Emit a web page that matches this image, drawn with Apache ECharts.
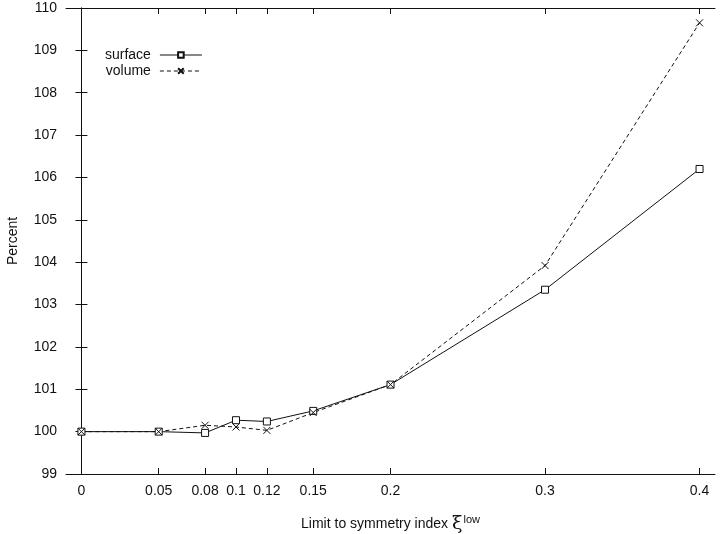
<!DOCTYPE html>
<html>
<head>
<meta charset="utf-8">
<script src="https://cdn.jsdelivr.net/npm/echarts@6/dist/echarts.min.js"></script>
<style>
  html, body { margin: 0; padding: 0; background: #fff; }
  #chart { width: 720px; height: 534px; }
</style>
</head>
<body>
<div id="chart"></div>
<script>
const xTicks = [0, 0.05, 0.08, 0.1, 0.12, 0.15, 0.2, 0.3, 0.4]
const surface = [100.0, 100.0, 99.97, 100.27, 100.24, 100.49, 101.11, 103.35, 106.2]
const volume = [100.0, 100.0, 100.15, 100.11, 100.03, 100.45, 101.11, 103.92, 109.65]

const font = "'Liberation Sans', Arial, sans-serif"
const black = "#111"
const squarePath = "path://M0,0L10,0L10,10L0,10Z"
const crossPath = "path://M0,0L10,10M10,0L0,10"

const chart = echarts.init(document.getElementById("chart"))

const xCommon = {
  type: "value",
  min: -0.01,
  max: 0.41,
  axisLine: { show: true, lineStyle: { color: black, width: 1 } },
  axisTick: { show: true, inside: true, length: 6, customValues: xTicks, lineStyle: { color: black } },
  splitLine: { show: false }
}
const yCommon = {
  type: "value",
  min: 99,
  max: 110,
  interval: 1,
  axisLine: { show: true, lineStyle: { color: black, width: 1 } },
  axisTick: { show: true, inside: true, length: 6, lineStyle: { color: black } },
  splitLine: { show: false }
}

chart.setOption({
  animation: false,
  backgroundColor: "#fff",
  textStyle: { fontFamily: font },
  grid: { left: 66, right: 5, top: 8, bottom: 60, containLabel: false, outerBoundsMode: "none" },
  legend: {
    orient: "vertical",
    align: "right",
    left: 100,
    top: 43,
    itemWidth: 42,
    itemHeight: 7,
    itemGap: 2,
    lineStyle: { width: 1 },
    textStyle: { fontFamily: font, fontSize: 14, color: black, padding: [0, 4, 0, 0] },
    data: ["surface", "volume"]
  },
  xAxis: [
    Object.assign({}, xCommon, {
      position: "bottom",
      axisLabel: {
        customValues: xTicks,
        color: black,
        fontSize: 14,
        fontFamily: font,
        margin: 10,
        formatter: v => String(v)
      },
      name: "Limit to symmetry index {g|ξ}{s|low}",
      nameLocation: "middle",
      nameGap: 40,
      nameTextStyle: {
        color: black,
        fontSize: 14,
        fontFamily: font,
        rich: {
          g: { fontSize: 19, fontFamily: "'DejaVu Serif', serif", color: black, verticalAlign: "bottom" },
          s: { fontSize: 11, fontFamily: font, color: black, verticalAlign: "top", padding: [0, 0, 9, 1] }
        }
      }
    }),
    Object.assign({}, xCommon, { position: "top", axisLabel: { show: false } })
  ],
  yAxis: [
    Object.assign({}, yCommon, {
      position: "left",
      axisLabel: { color: black, fontSize: 14, fontFamily: font, margin: 9 },
      name: "Percent",
      nameLocation: "middle",
      nameRotate: 90,
      nameGap: 46,
      nameTextStyle: { color: black, fontSize: 14, fontFamily: font }
    }),
    Object.assign({}, yCommon, { position: "right", axisLabel: { show: false } })
  ],
  series: [
    {
      name: "surface",
      type: "line",
      data: xTicks.map((x, i) => [x, surface[i]]),
      symbol: squarePath,
      symbolSize: 7,
      showAllSymbol: true,
      lineStyle: { color: black, width: 1 },
      itemStyle: { color: "#fff", borderColor: black, borderWidth: 1 }
    },
    {
      name: "volume",
      type: "line",
      data: xTicks.map((x, i) => [x, volume[i]]),
      symbol: crossPath,
      symbolSize: 7,
      showAllSymbol: true,
      lineStyle: { color: black, width: 1, type: [4, 3] },
      itemStyle: { color: "transparent", borderColor: black, borderWidth: 1 }
    }
  ]
})
</script>
</body>
</html>
